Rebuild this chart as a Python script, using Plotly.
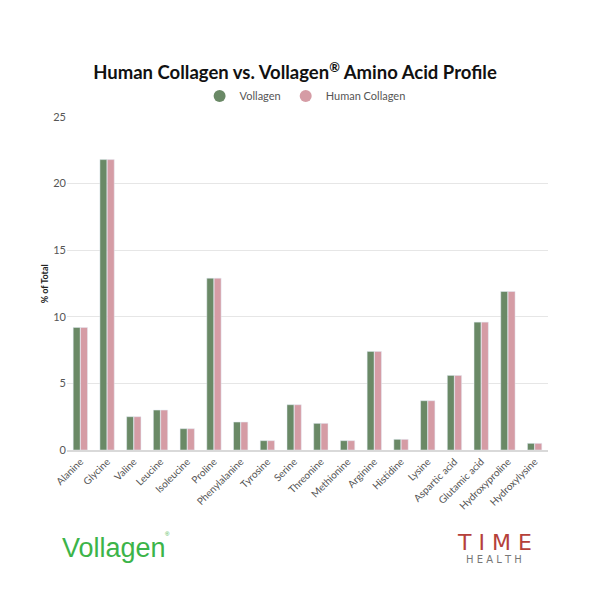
import plotly.graph_objects as go

categories = ["Alanine", "Glycine", "Valine", "Leucine", "Isoleucine", "Proline",
              "Phenylalanine", "Tyrosine", "Serine", "Threonine", "Methionine",
              "Arginine", "Histidine", "Lysine", "Aspartic acid", "Glutamic acid",
              "Hydroxyproline", "Hydroxylysine"]
vollagen = [9.2, 21.8, 2.5, 3.0, 1.6, 12.9, 2.1, 0.7, 3.4, 2.0, 0.7, 7.4, 0.8, 3.7, 5.6, 9.6, 11.9, 0.5]
human_collagen = [9.2, 21.8, 2.5, 3.0, 1.6, 12.9, 2.1, 0.7, 3.4, 2.0, 0.7, 7.4, 0.8, 3.7, 5.6, 9.6, 11.9, 0.5]
y_ticks = [0, 5, 10, 15, 20, 25]

GREEN = "#6a8966"
PINK = "#d59ca5"
FONT = "Lato"

fig = go.Figure()
fig.add_trace(go.Bar(name="Vollagen", x=categories, y=vollagen, marker_color=GREEN, showlegend=False))
fig.add_trace(go.Bar(name="Human Collagen", x=categories, y=human_collagen, marker_color=PINK, showlegend=False))
# legend entries with circular markers
fig.add_trace(go.Scatter(name="Vollagen", x=[categories[0]], y=[None], mode="markers",
                         marker=dict(symbol="circle", size=11, color=GREEN)))
fig.add_trace(go.Scatter(name="Human Collagen", x=[categories[0]], y=[None], mode="markers",
                         marker=dict(symbol="circle", size=11, color=PINK)))

fig.update_layout(
    width=600, height=600,
    paper_bgcolor="white", plot_bgcolor="white",
    margin=dict(l=59, r=60, t=109, b=158, autoexpand=False),
    barmode="group", bargap=0.45, bargroupgap=0.05,
    font=dict(family=FONT, color="#555555"),
    title=dict(text="<b>Human Collagen vs. Vollagen<sup>®</sup> Amino Acid Profile</b>",
               x=287 / 600, xanchor="center", y=1 - 65 / 600, yanchor="middle",
               yref="container", font=dict(size=18.5, color="#111111", family=FONT)),
    legend=dict(orientation="h", x=0.495, xanchor="center", y=1.063, yanchor="middle",
                font=dict(size=11, color="#555555"), itemsizing="constant",
                itemwidth=30, traceorder="normal"),
    showlegend=True,
)

fig.update_xaxes(range=[-0.5, len(categories) - 0.5], autorange=False,
                 tickangle=-45, tickfont=dict(size=10, color="#555555"),
                 showline=True, linecolor="#d9d9d9", linewidth=2,
                 showgrid=False, ticks="", automargin=False)
fig.update_yaxes(range=[0, 25], tickvals=y_ticks, tickfont=dict(size=11, color="#555555"),
                 showgrid=True, gridcolor="#e6e6e6", gridwidth=1,
                 zeroline=False, showline=False, automargin=False)

# y-axis title
fig.add_annotation(text="<b>% of Total</b>", xref="paper", yref="paper",
                   x=-0.046, y=0.5, xanchor="center", yanchor="middle", textangle=-90,
                   showarrow=False, font=dict(size=9, color="#222222", family=FONT))

# Logos as text
fig.add_annotation(text="Vollagen", xref="paper", yref="paper",
                   x=-0.015, y=-0.294, xanchor="left", yanchor="middle", showarrow=False,
                   font=dict(family="Liberation Sans", size=27, color="#3cb449"))
fig.add_annotation(text="®", xref="paper", yref="paper",
                   x=0.2, y=-0.252, xanchor="left", yanchor="middle", showarrow=False,
                   font=dict(family="Liberation Sans", size=6, color="#3cb449"))
fig.add_annotation(text="T I M E", xref="paper", yref="paper",
                   x=0.888, y=-0.278, xanchor="center", yanchor="middle", showarrow=False,
                   font=dict(family="DejaVu Sans", size=22, color="#b5403a"))
fig.add_annotation(text="H E A L T H", xref="paper", yref="paper",
                   x=0.888, y=-0.328, xanchor="center", yanchor="middle", showarrow=False,
                   font=dict(family="DejaVu Sans", size=10, color="#777777"))

fig.write_html("out.html")
